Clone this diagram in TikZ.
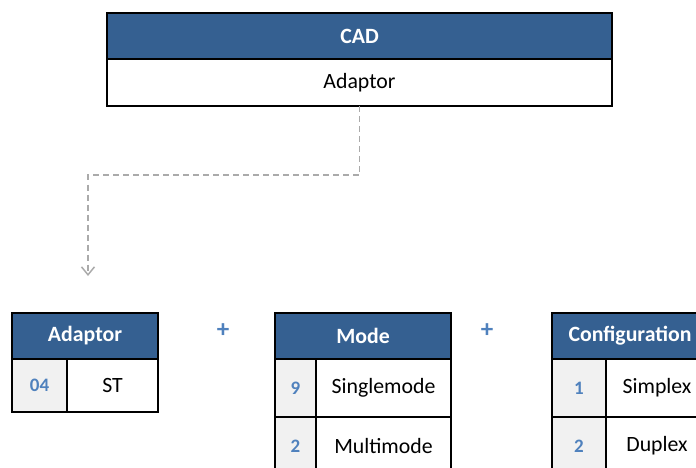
\documentclass[tikz,border=0pt]{standalone}
\usepackage{fontspec}
\setmainfont{Carlito}
\usepackage{tikz}
\usetikzlibrary{calc,positioning,arrows.meta}

\definecolor{hdrblue}{RGB}{53,96,145}
\definecolor{codeblue}{RGB}{79,129,189}
\definecolor{codegray}{RGB}{241,241,241}
\definecolor{linkgray}{RGB}{170,170,170}

\tikzset{
	tbl/.style={draw=black,line width=1.6pt,outer sep=0pt,inner sep=0pt,
		font=\fontsize{21.8}{26}\selectfont},
	hdr/.style={tbl,fill=hdrblue,text=white,font=\fontsize{21.8}{26}\selectfont\bfseries,minimum height=46},
	cell/.style={tbl,fill=white},
	code/.style={tbl,fill=codegray,text=codeblue,font=\fontsize{19}{22}\selectfont\bfseries},
	plus/.style={text=codeblue,font=\fontsize{25}{28}\selectfont\bfseries},
	link/.style={draw=linkgray,line width=1.5pt,dash pattern=on 6pt off 4pt,-{Straight Barb[length=8pt,width=13pt]}}
}

\begin{document}
\begin{tikzpicture}[x=1pt,y=-1pt]
	\useasboundingbox (0,0) rectangle (696,468);
	% top box
	\node(cad) [hdr,minimum width=505,anchor=north west] at (107,13) {CAD};
	\node(cadrow) [cell,minimum width=505,minimum height=47,below=0 of cad] {Adaptor};
	% link down to the tables
	\coordinate (bend) at (88,175);
	\coordinate (tip) at (88,276);
	\draw[link] (cadrow.south) |- (bend) -- (tip);
	% adaptor table
	\node(adhdr) [hdr,minimum width=146,anchor=north west] at (12,313) {Adaptor};
	\node(adc1) [code,minimum width=55,minimum height=53,anchor=north west] at (adhdr.south west) {04};
	\node(adv1) [cell,minimum width=91,minimum height=53,right=0 of adc1] {ST};
	\node(plus1) [plus] at (223,331) {+};
	% mode table
	\node(mdhdr) [hdr,minimum width=176,anchor=north west] at (275,313) {Mode};
	\node(mdc1) [code,minimum width=41,minimum height=58,anchor=north west] at (mdhdr.south west) {9};
	\node(mdv1) [cell,minimum width=135,minimum height=58,right=0 of mdc1] {Singlemode};
	\node(mdc2) [code,minimum width=41,minimum height=58,below=0 of mdc1] {2};
	\node(mdv2) [cell,minimum width=135,minimum height=58,right=0 of mdc2] {Multimode};
	\node(plus2) [plus] at (487,331) {+};
	% configuration table
	\node(cfhdr) [hdr,minimum width=156,anchor=north west] at (552,313) {Configuration};
	\node(cfc1) [code,minimum width=54,minimum height=58,anchor=north west] at (cfhdr.south west) {1};
	\node(cfv1) [cell,minimum width=102,minimum height=58,right=0 of cfc1] {Simplex};
	\node(cfc2) [code,minimum width=54,minimum height=58,below=0 of cfc1] {2};
	\node(cfv2) [cell,minimum width=102,minimum height=58,right=0 of cfc2] {Duplex};
\end{tikzpicture}
\end{document}
